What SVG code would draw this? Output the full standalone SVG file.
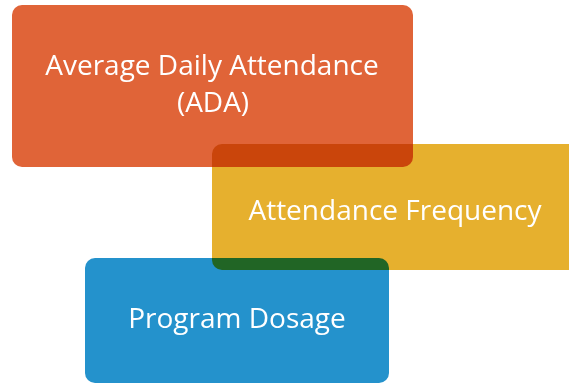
<svg xmlns="http://www.w3.org/2000/svg" width="569" height="384" viewBox="0 0 569 384">
<style>
.box{mix-blend-mode:multiply}
.lbl{font-family:"Open Sans","Noto Sans","Liberation Sans",sans-serif;font-size:28px;fill:#ffffff;text-anchor:middle}
</style>
<rect width="569" height="384" fill="#ffffff"/>
<g id="connectors"></g>
<g id="node-ada">
<rect class="box" x="12" y="5" width="401" height="162" rx="10" fill="#E06438"/>
</g>
<g id="node-frequency">
<rect class="box" x="212" y="144" width="370" height="126" rx="10" fill="#E6B02E"/>
</g>
<g id="node-dosage">
<rect class="box" x="85" y="258" width="304" height="125" rx="10" fill="#2492CC"/>
</g>
<g id="labels">
<text class="lbl" x="212" y="75">Average Daily Attendance</text>
<text class="lbl" x="213" y="112">(ADA)</text>
<text class="lbl" x="395" y="220">Attendance Frequency</text>
<text class="lbl" x="237" y="328">Program Dosage</text>
</g>
</svg>
